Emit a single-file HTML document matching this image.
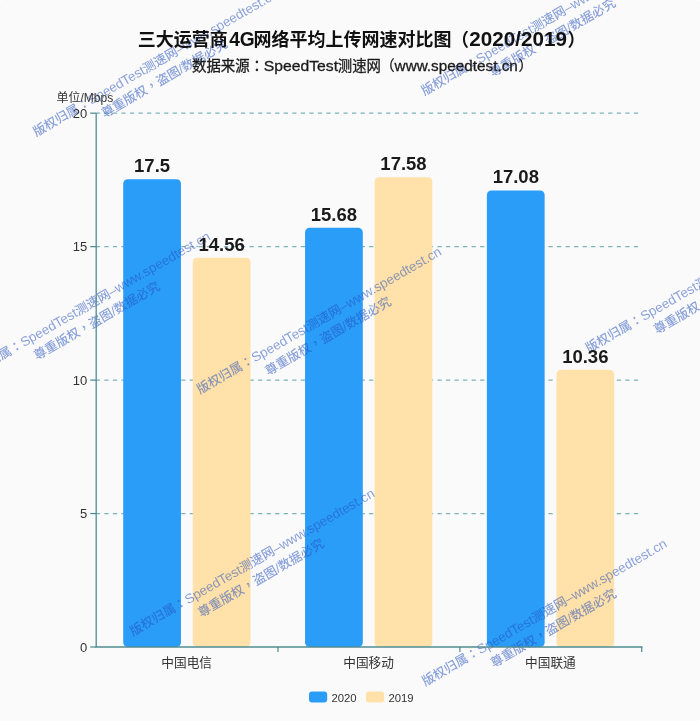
<!DOCTYPE html>
<html lang="zh-CN">
<head>
<meta charset="utf-8">
<title>三大运营商4G网络平均上传网速对比图</title>
<style>
html,body{margin:0;padding:0;background:#fff;}
body{width:700px;height:721px;overflow:hidden;position:relative;font-family:"Liberation Sans","Noto Sans CJK SC",sans-serif;}
svg{position:absolute;left:0;top:0;display:block;}
text{font-family:"Liberation Sans","Noto Sans CJK SC",sans-serif;}
.tc{font-family:"Liberation Sans","Noto Sans CJK TC",sans-serif;}
.title{font-size:18px;font-weight:700;fill:#111;}
.title .tl{font-size:19.4px;}
.sub{font-size:14.4px;font-weight:400;fill:#1a1a1a;stroke:#1a1a1a;stroke-width:.3px;}
.sub .la{font-size:15.4px;}
.ax{font-size:13px;fill:#333;}
.cat{font-size:12.7px;}
.unit{font-size:12px;fill:#333;}
.val{font-size:18.5px;font-weight:700;fill:#1a1a1a;}
.leg{font-size:11.3px;fill:#333;}
.wm text{font-size:12.7px;font-weight:500;fill:#2350bd;text-anchor:middle;}
.wm .la{font-size:13.4px;}
.wm{opacity:.52;}
</style>
</head>
<body>
<svg width="700" height="721" viewBox="0 0 700 721">
<rect x="0" y="0" width="700" height="721" rx="3" ry="3" fill="#fafafa"/>
<line x1="95.8" y1="513.55" x2="641.7" y2="513.55" stroke="#7fb4b7" stroke-width="1.2" stroke-dasharray="4.27 4.27"/>
<line x1="95.8" y1="380.10" x2="641.7" y2="380.10" stroke="#7fb4b7" stroke-width="1.2" stroke-dasharray="4.27 4.27"/>
<line x1="95.8" y1="246.65" x2="641.7" y2="246.65" stroke="#7fb4b7" stroke-width="1.2" stroke-dasharray="4.27 4.27"/>
<line x1="95.8" y1="113.20" x2="641.7" y2="113.20" stroke="#7fb4b7" stroke-width="1.2" stroke-dasharray="4.27 4.27"/>
<rect id="bar1" x="123.22" y="179.28" width="57.75" height="467.72" rx="4.5" ry="4.5" fill="#2a9df9"/>
<rect id="bar2" x="192.77" y="257.74" width="57.75" height="389.26" rx="4.5" ry="4.5" fill="#ffe1a9"/>
<rect id="bar3" x="305.05" y="227.85" width="57.75" height="419.15" rx="4.5" ry="4.5" fill="#2a9df9"/>
<rect id="bar4" x="374.60" y="177.14" width="57.75" height="469.86" rx="4.5" ry="4.5" fill="#ffe1a9"/>
<rect id="bar5" x="486.88" y="190.48" width="57.75" height="456.52" rx="4.5" ry="4.5" fill="#2a9df9"/>
<rect id="bar6" x="556.43" y="369.84" width="57.75" height="277.16" rx="4.5" ry="4.5" fill="#ffe1a9"/>
<g class="wm" id="wm1" transform="translate(157.6 66.7) rotate(-30.0)"><text x="0" y="0">版权归属<tspan class="tc" lang="zh-TW">：</tspan><tspan class="la">SpeedTest</tspan>测速网<tspan class="la">–www.speedtest.cn</tspan></text><text x="0" y="18">尊重版权<tspan class="tc" lang="zh-TW">，</tspan>盗图/数据必究</text></g>
<g class="wm" id="wm2" transform="translate(545.7 25.7) rotate(-30.0)"><text x="0" y="0">版权归属<tspan class="tc" lang="zh-TW">：</tspan><tspan class="la">SpeedTest</tspan>测速网<tspan class="la">–www.speedtest.cn</tspan></text><text x="0" y="18">尊重版权<tspan class="tc" lang="zh-TW">，</tspan>盗图/数据必究</text></g>
<g class="wm" id="wm3" transform="translate(90.0 309.0) rotate(-30.0)"><text x="0" y="0">版权归属<tspan class="tc" lang="zh-TW">：</tspan><tspan class="la">SpeedTest</tspan>测速网<tspan class="la">–www.speedtest.cn</tspan></text><text x="0" y="18">尊重版权<tspan class="tc" lang="zh-TW">，</tspan>盗图/数据必究</text></g>
<g class="wm" id="wm4" transform="translate(321.2 324.3) rotate(-30.0)"><text x="0" y="0">版权归属<tspan class="tc" lang="zh-TW">：</tspan><tspan class="la">SpeedTest</tspan>测速网<tspan class="la">–www.speedtest.cn</tspan></text><text x="0" y="18">尊重版权<tspan class="tc" lang="zh-TW">，</tspan>盗图/数据必究</text></g>
<g class="wm" id="wm5" transform="translate(710.0 283.0) rotate(-30.0)"><text x="0" y="0">版权归属<tspan class="tc" lang="zh-TW">：</tspan><tspan class="la">SpeedTest</tspan>测速网<tspan class="la">–www.speedtest.cn</tspan></text><text x="0" y="18">尊重版权<tspan class="tc" lang="zh-TW">，</tspan>盗图/数据必究</text></g>
<g class="wm" id="wm6" transform="translate(254.3 566.1) rotate(-30.0)"><text x="0" y="0">版权归属<tspan class="tc" lang="zh-TW">：</tspan><tspan class="la">SpeedTest</tspan>测速网<tspan class="la">–www.speedtest.cn</tspan></text><text x="0" y="18">尊重版权<tspan class="tc" lang="zh-TW">，</tspan>盗图/数据必究</text></g>
<g class="wm" id="wm7" transform="translate(546.6 616.3) rotate(-30.0)"><text x="0" y="0">版权归属<tspan class="tc" lang="zh-TW">：</tspan><tspan class="la">SpeedTest</tspan>测速网<tspan class="la">–www.speedtest.cn</tspan></text><text x="0" y="18">尊重版权<tspan class="tc" lang="zh-TW">，</tspan>盗图/数据必究</text></g>
<line x1="96.2" y1="113.2" x2="96.2" y2="647.0" stroke="#4f8d93" stroke-width="1.3"/>
<line x1="95.4" y1="647.0" x2="642.5" y2="647.0" stroke="#4f8d93" stroke-width="1.3"/>
<line x1="90.2" y1="647.00" x2="96.2" y2="647.00" stroke="#4a888d" stroke-width="1.2"/>
<line x1="90.2" y1="513.55" x2="96.2" y2="513.55" stroke="#4a888d" stroke-width="1.2"/>
<line x1="90.2" y1="380.10" x2="96.2" y2="380.10" stroke="#4a888d" stroke-width="1.2"/>
<line x1="90.2" y1="246.65" x2="96.2" y2="246.65" stroke="#4a888d" stroke-width="1.2"/>
<line x1="90.2" y1="113.20" x2="96.2" y2="113.20" stroke="#4a888d" stroke-width="1.2"/>
<line x1="278.0" y1="647.0" x2="278.0" y2="652.0" stroke="#4a888d" stroke-width="1.2"/>
<line x1="459.9" y1="647.0" x2="459.9" y2="652.0" stroke="#4a888d" stroke-width="1.2"/>
<line x1="641.7" y1="647.0" x2="641.7" y2="652.0" stroke="#4a888d" stroke-width="1.2"/>
<text class="title" id="title" y="45.5"><tspan id="t1" x="137.8">三大运营商</tspan><tspan id="t2" x="229.2" textLength="25.6" lengthAdjust="spacingAndGlyphs" class="tl">4G</tspan><tspan id="t3" x="253.4">网络平均上传网速对比图</tspan><tspan id="t4" x="451">（</tspan><tspan id="t5" x="469.3" textLength="97.6" lengthAdjust="spacingAndGlyphs" class="tl">2020/2019</tspan><tspan id="t6" x="567.5">）</tspan></text>
<text class="sub" id="sub" y="71.2"><tspan id="s1" x="192">数据来源</tspan><tspan id="s2" class="tc" lang="zh-TW" x="249.8">：</tspan><tspan id="s3" class="la" x="263.8" textLength="74.2" lengthAdjust="spacingAndGlyphs">SpeedTest</tspan><tspan id="s4" x="337.8">测速网</tspan><tspan id="s5" x="380.3">（</tspan><tspan id="s6" class="la" x="394.6" textLength="123.2" lengthAdjust="spacingAndGlyphs">www.speedtest.cn</tspan><tspan id="s7" x="518.4">）</tspan></text>
<text class="unit" id="unit" x="56.5" y="102">单位/Mbps</text>
<text class="ax" id="y0" x="87.3" y="651.7" text-anchor="end">0</text>
<text class="ax" id="y5" x="87.3" y="518.2" text-anchor="end">5</text>
<text class="ax" id="y10" x="87.3" y="384.8" text-anchor="end">10</text>
<text class="ax" id="y15" x="87.3" y="251.4" text-anchor="end">15</text>
<text class="ax" id="y20" x="87.3" y="117.9" text-anchor="end">20</text>
<text class="ax cat" id="cat1" x="186.7" y="666.6" text-anchor="middle">中国电信</text>
<text class="ax cat" id="cat2" x="368.6" y="666.6" text-anchor="middle">中国移动</text>
<text class="ax cat" id="cat3" x="550.4" y="666.6" text-anchor="middle">中国联通</text>
<text class="val" id="val1" x="152.1" y="172.1" text-anchor="middle">17.5</text>
<text class="val" id="val2" x="221.6" y="250.6" text-anchor="middle">14.56</text>
<text class="val" id="val3" x="333.9" y="220.7" text-anchor="middle">15.68</text>
<text class="val" id="val4" x="403.5" y="170.0" text-anchor="middle">17.58</text>
<text class="val" id="val5" x="515.8" y="183.3" text-anchor="middle">17.08</text>
<text class="val" id="val6" x="585.3" y="362.7" text-anchor="middle">10.36</text>
<rect id="lg1" x="309" y="691.5" width="18.2" height="11" rx="3" fill="#2a9df9"/>
<text class="leg" id="lt1" x="331.5" y="702">2020</text>
<rect id="lg2" x="366" y="691.5" width="18.2" height="11" rx="3" fill="#ffe1a9"/>
<text class="leg" id="lt2" x="388.5" y="702">2019</text>
</svg>
</body>
</html>
